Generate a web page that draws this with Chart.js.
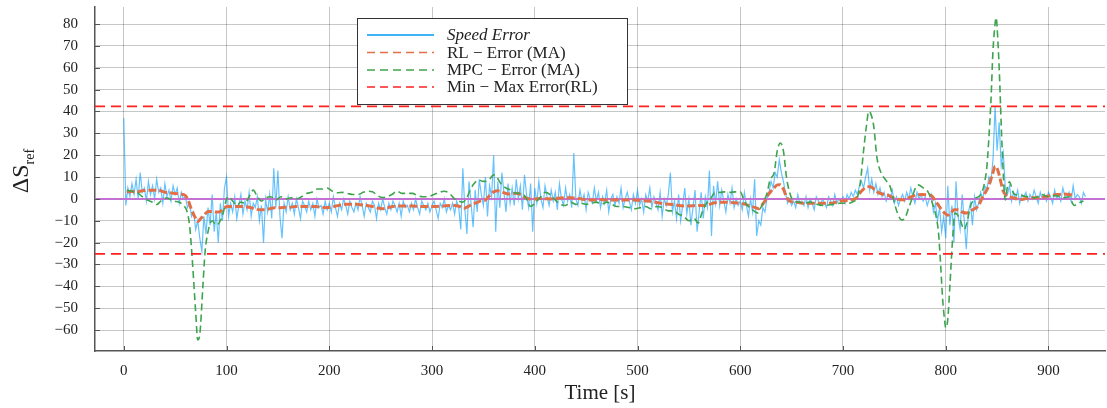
<!DOCTYPE html>
<html>
<head>
<meta charset="utf-8">
<script src="https://cdn.jsdelivr.net/npm/chart.js@4.4.1/dist/chart.umd.min.js"></script>
<style>
body { margin: 0; background: #ffffff; }
#wrap { width: 1107px; height: 408px; }
</style>
</head>
<body>
<div id="wrap"><canvas id="speed_error_chart" width="1107" height="408"></canvas></div>
<script>
// raw speed error, one sample every 2 s starting at t = 0
const speed_error_step = 2;
const speed_error_values = [
    37, -3, 5, 1, 7, 2, 9, 0, 12, 3,
    5, -1, 8, 2, 6, 0, 9, 3, 5, -2,
    7, 1, 4, -1, 6, 2, 5, -2, 3, 0,
    1, -4, -2, -8, -6, -14, -10, -18, -24, -8,
    -16, -4, -12, 2, -15, -6, -20, -2, -10, 5,
    10, -8, -2, -6, 1, -9, -3, 2, -7, -1,
    -5, 3, -8, -2, -4, 1, -10, -3, -20, 0,
    -6, 2, -9, 14, -4, 13, -8, -18, -2, -6,
    1, -5, -2, -7, 0, -4, -9, -1, -3, -6,
    -1, -5, -2, -8, 0, -4, -3, -7, -1, -5,
    -2, -6, 1, -4, -8, -2, -5, 0, -3, -7,
    -1, -4, -6, -2, -5, 1, -3, -8, -2, -4,
    -6, -1, -3, -9, -2, -5, 0, -4, -7, -2,
    -5, -1, -3, -6, -2, -8, -1, -4, -3, -6,
    -2, -5, 0, -4, -7, -1, -3, -5, -2, -6,
    -3, -1, -5, -9, -2, -4, 0, -6, -3, -5,
    -2, -7, -1, -4, -14, 14, -5, -16, 8, -2,
    -13, 4, -6, 9, 2, -3, 10, -8, 6, 1,
    20, -15, 8, -4, 12, 3, -6, 7, -2, 5,
    -3, 9, 0, 6, -5, 11, 2, -4, 7, -15,
    5, -2, 8, 0, -4, 6, 1, -3, 4, -1,
    3, -5, 7, 0, -3, 5, -1, 2, -4, 21,
    0, -3, 4, -1, 2, -5, 3, 0, -2, 5,
    -1, 3, -4, 1, -2, 4, -6, 0, 2, -3,
    1, -2, 5, -4, 0, 3, -1, -5, 2, -2,
    4, -3, 0, -6, 2, -1, 5, -4, 1, -2,
    -5, 3, -8, 0, -3, 2, 12, -6, -1, -9,
    2, -10, -3, 5, -7, 0, -12, -4, 4, -15,
    -6, 3, -9, 1, -4, 13, -17, 6, -2, 8,
    -3, 4, -1, -6, 2, -2, 5, -4, 0, -3,
    -1, -5, 3, -3, -8, 0, -6, 9, -17, -10,
    -12, -4, -6, 0, 3, 8, 5, 12, 10, 18,
    12, 8, 3, -2, 0, -3, -1, -4, 2, -2,
    -1, -3, 1, -4, 0, -2, -5, 1, -1, -3,
    0, -2, -4, 1, -1, -3, 2, -2, 0, -1,
    1, -2, 2, 0, 3, 1, 4, 2, 6, 8,
    5, 10, 14, 4, 9, 3, 7, 2, 5, 1,
    3, -1, 2, 0, 4, -2, 1, -3, 0, 2,
    -1, 3, 0, 5, 1, -2, 3, 0, 2, -1,
    1, -3, 0, 2, -6, -2, -10, -4, -15, -8,
    -18, 6, -12, -3, -20, 8, -8, -14, 2, -10,
    -23, -6, -2, -12, 1, -5, -2, 3, 0, 6,
    4, 10, 8, 18, 42, 22, 35, 15, 21, 5,
    2, 6, -1, 3, 0, 4, -2, 2, 1, 3,
    -1, 2, 0, 4, 1, -2, 3, 0, 2, -1,
    3, 1, -2, 4, 0, 2, -1, 5, 1, 0,
    3, -1, 6, 0, 2, 1, -2, 3, 1
];

// moving averages as [time, value]
const rl_error_ma = [
    [3, 3], [7, 3.5], [12, 3], [16, 3.5], [20, 3.8], [25, 4], [30, 4], [35, 3.8], [40, 3], [45, 2.8],
    [50, 2.5], [55, 2.2], [60, 1.5], [63, -1], [66, -5], [69, -8], [72, -10.4], [75, -9], [78, -7.5], [82, -5.8],
    [86, -5.8], [90, -6], [94, -5.8], [98, -4], [102, -3.5], [107, -3.5], [112, -3.5], [117, -3.5], [122, -3.8], [127, -4.5],
    [132, -5], [137, -5], [142, -4.5], [147, -4], [152, -4], [157, -3.8], [162, -3.8], [167, -3.5], [172, -3.5], [177, -3.5],
    [182, -3.5], [187, -3.5], [192, -3.8], [197, -4], [202, -3.8], [207, -3.2], [212, -2.8], [217, -2.5], [222, -2.5], [227, -2.5],
    [232, -2.8], [237, -3], [242, -3.5], [247, -4.2], [252, -4.5], [257, -4], [262, -3.5], [267, -3.2], [272, -3.2], [277, -3.2],
    [282, -3.3], [287, -3.4], [292, -3.5], [297, -3.5], [302, -3.5], [307, -3.4], [312, -3.2], [317, -3], [322, -3], [327, -3.5],
    [331, -4.3], [335, -3.5], [339, -2.5], [343, -1.8], [347, -1], [352, -0.5], [356, 1.5], [360, 3.2], [364, 3.7], [368, 3.2],
    [372, 2.5], [377, 2.2], [382, 2.6], [386, 2], [390, 0.8], [395, 0], [400, 0], [405, 0.2], [410, 0.1], [415, 0],
    [420, 0.2], [425, 0.4], [430, 0.5], [435, 0.5], [440, 0.4], [445, 0], [450, -0.4], [455, -0.5], [460, -0.5], [465, -0.3],
    [470, -0.5], [475, -0.5], [480, -0.5], [485, -0.6], [490, -0.5], [495, -0.5], [500, -0.6], [505, -0.8], [510, -1], [515, -1.3],
    [520, -1.8], [525, -2.2], [530, -2.4], [535, -2.6], [540, -3], [545, -3.2], [550, -3.2], [555, -3.1], [560, -3], [565, -3],
    [570, -2.5], [575, -1.8], [580, -1.5], [585, -1.5], [590, -1.6], [595, -1.8], [600, -2], [605, -2.5], [610, -3.3], [615, -4],
    [618, -4.5], [621, -3], [624, -1], [627, 1.8], [630, 3.5], [633, 5], [636, 6.4], [639, 6.5], [642, 4.5], [645, 1],
    [648, -1], [653, -1.5], [658, -1.8], [663, -2], [668, -2], [673, -2], [678, -2], [683, -2], [688, -2], [693, -1.5],
    [698, -1], [703, -0.8], [708, -0.5], [713, 0.5], [717, 3], [720, 4.5], [724, 5.5], [727, 5.5], [730, 4.5], [734, 3],
    [740, 2], [745, 1.5], [750, 0.3], [755, -0.3], [760, -0.5], [764, 0.5], [768, 1.3], [772, 1.8], [777, 2], [782, 1.8],
    [786, 1.5], [790, -1], [793, -3], [796, -5], [799, -6.5], [802, -7.5], [805, -6.5], [808, -5], [812, -5], [816, -6],
    [820, -6.5], [824, -5.5], [828, -4.5], [832, -3], [835, 0], [838, 2.5], [841, 5], [844, 9], [846, 12], [848, 15],
    [850, 14], [852, 11], [854, 7], [856, 3.5], [859, 1.5], [863, 0.8], [868, 0.2], [873, -0.3], [878, 0.2], [884, 0.5],
    [890, 0.5], [896, 1], [902, 1.5], [908, 2], [914, 2.2], [920, 2], [925, 1.5]
];

const mpc_error_ma = [
    [3, 4], [8, 3.5], [13, 3], [18, 1], [23, -0.5], [28, -1.5], [32, -2.6], [36, -1], [42, 0.5], [48, -1],
    [54, -1.5], [58, -3], [61, -5], [64, -12], [67, -30], [70, -52], [72, -64.5], [74, -62], [77, -40], [79, -25],
    [82, -15], [86, -10], [90, -12], [94, -10], [97, -6], [100, 0], [102, 1], [106, -1], [110, -3], [114, -1.5],
    [118, -2], [122, 1], [126, 4], [130, 1], [134, -1], [138, 0.5], [143, 1], [148, -0.5], [153, 1], [158, 0],
    [163, 0.5], [168, 0], [173, 1], [178, 2.5], [183, 3], [188, 4.5], [193, 4.5], [198, 5], [203, 3.5], [208, 2.8],
    [213, 3], [218, 2.5], [223, 2], [228, 2], [233, 3], [238, 3.5], [242, 3.3], [247, 1.5], [252, 0.6], [256, 1],
    [261, 2], [266, 3.5], [271, 2.5], [276, 2.5], [281, 2.5], [286, 1.5], [291, 1], [296, 1], [302, 2], [307, 3],
    [312, 3.5], [317, 2.5], [322, 0], [326, -1], [330, -1.5], [334, 0.5], [337, 4], [341, 7], [345, 8.7], [350, 8],
    [355, 8.5], [360, 11], [363, 10], [367, 7], [372, 5], [377, 4], [382, 2.5], [387, 2.7], [392, 0], [396, -3.5],
    [400, -2], [405, 0.5], [410, 3], [415, 2], [420, -0.5], [425, -2.5], [430, -3], [435, -1.5], [440, -2.5], [445, -2],
    [450, -2.5], [455, -2], [460, -1.5], [465, -2.5], [470, -1.5], [475, -2.5], [480, -3.5], [486, -3.5], [492, -4], [498, -4.5],
    [503, -4], [508, -3.5], [513, -4.5], [519, -3.5], [524, -4], [530, -5.5], [535, -5.5], [540, -7], [545, -8], [550, -10],
    [555, -9], [559, -11], [563, -6], [567, -2], [571, 0], [575, 2.7], [580, 3], [585, 3.2], [590, 3], [595, 3.2],
    [600, 3.2], [604, -1], [608, -3.5], [612, -5], [617, -6.4], [620, -4], [623, -1], [626, 2.5], [629, 8.7], [633, 12],
    [636, 22], [639, 25.6], [642, 22], [645, 10], [648, 3], [652, -1], [657, -1.5], [662, -2], [668, -1.5], [675, -2.5],
    [682, -3], [690, -2.5], [697, -2], [705, -2], [711, -1], [714, 0.5], [717, 8], [720, 22], [723, 34], [725, 40],
    [727, 39], [730, 33], [733, 19], [737, 12], [741, 9], [746, 5.5], [749, 0], [753, -6.5], [757, -9.6], [760, -9],
    [764, -4], [767, 0], [770, 4.5], [773, 6.4], [778, 5], [783, 3], [788, -3.5], [791, -9], [793, -15.7], [795, -30],
    [797, -46], [799, -56], [800, -59], [802, -55], [804, -40], [807, -16], [809, -6.5], [811, -7], [814, -9.6], [818, -14],
    [821, -10], [824, -3.5], [828, 0], [832, 1], [835, 2.7], [838, 8], [840, 14.6], [842, 28], [844, 45], [846, 68],
    [848, 80], [849, 83], [851, 70], [852, 60], [855, 22], [858, -0.5], [860, 5.5], [862, 7.8], [866, 2.5], [873, 1.5],
    [880, 1], [887, 0.5], [893, 2], [900, 1], [907, 1.5], [914, 0.5], [920, 1], [925, -3], [929, -2], [934, -1]
];

const min_max_error_rl = [42.3, -25.2];
const zero_level = 0;
const x_range = [-28, 955];
const y_range = [-69.6, 87.8];
const legend_labels = ["Speed Error", "RL \u2212 Error (MA)", "MPC \u2212 Error (MA)", "Min \u2212 Max Error(RL)"];

const speed_error_points = speed_error_values.map((v, i) => ({ x: i * speed_error_step, y: v }));
const rl_points = rl_error_ma.map(p => ({ x: p[0], y: p[1] }));
const mpc_points = mpc_error_ma.map(p => ({ x: p[0], y: p[1] }));
const hline = level => [{ x: x_range[0], y: level }, { x: x_range[1], y: level }];

const serif = "'Liberation Serif', 'DejaVu Serif', serif";
const c_blue = "rgba(0, 154, 250, 0.6)";
const c_orange = "#E36F47";
const c_green = "#3EA44E";
const c_purple = "#C371D2";
const c_red = "#FF2020";

// y label with subscript, x label, inner tick marks and the boxed legend
const extras_plugin =
{
    id: "extras",
    afterDatasetsDraw(chart)
    {
        const ctx = chart.ctx;
        const area = chart.chartArea;
        ctx.save();
        ctx.strokeStyle = "#555555";
        ctx.lineWidth = 1;
        chart.scales.y.ticks.forEach(t =>
        {
            const py = Math.round(chart.scales.y.getPixelForValue(t.value)) + 0.5;
            ctx.beginPath(); ctx.moveTo(area.left, py); ctx.lineTo(area.left + 5, py); ctx.stroke();
        });
        chart.scales.x.ticks.forEach(t =>
        {
            const px = Math.round(chart.scales.x.getPixelForValue(t.value)) + 0.5;
            ctx.beginPath(); ctx.moveTo(px, area.bottom); ctx.lineTo(px, area.bottom - 5); ctx.stroke();
        });
        ctx.restore();
    },
    afterDraw(chart)
    {
        const ctx = chart.ctx;
        ctx.save();

        // y axis title: ΔS_ref
        ctx.translate(22, 171);
        ctx.rotate(-Math.PI / 2);
        ctx.fillStyle = "#222222";
        ctx.textBaseline = "middle";
        ctx.font = "24px " + serif;
        const w1 = ctx.measureText("\u0394S").width;
        ctx.font = "14px " + serif;
        const w2 = ctx.measureText("ref").width;
        const x0 = -(w1 + w2) / 2;
        ctx.font = "24px " + serif;
        ctx.textAlign = "left";
        ctx.fillText("\u0394S", x0, 0);
        ctx.font = "14px " + serif;
        ctx.fillText("ref", x0 + w1, 8);
        ctx.restore();

        // x axis title
        ctx.save();
        ctx.fillStyle = "#222222";
        ctx.font = "21px " + serif;
        ctx.textAlign = "center";
        ctx.textBaseline = "middle";
        ctx.fillText("Time [s]", 600, 393);
        ctx.restore();

        // legend box
        ctx.save();
        const bx = 357, by = 18, bw = 270, bh = 86;
        ctx.fillStyle = "#ffffff";
        ctx.fillRect(bx, by, bw, bh);
        ctx.strokeStyle = "#333333";
        ctx.lineWidth = 1;
        ctx.strokeRect(bx + 0.5, by + 0.5, bw, bh);
        const rows = [35, 52.5, 70, 87];
        const styles =
        [
            { color: "rgb(0, 154, 250)", dash: [] },
            { color: c_orange, dash: [8, 5] },
            { color: c_green, dash: [8, 5] },
            { color: c_red, dash: [8, 5] }
        ];
        legend_labels.forEach((label, i) =>
        {
            ctx.strokeStyle = styles[i].color;
            ctx.setLineDash(styles[i].dash);
            ctx.lineWidth = 1.5;
            ctx.beginPath();
            ctx.moveTo(367, rows[i]);
            ctx.lineTo(434, rows[i]);
            ctx.stroke();
            ctx.fillStyle = "#222222";
            ctx.font = (i === 0 ? "italic " : "") + "17px " + serif;
            ctx.textAlign = "left";
            ctx.textBaseline = "middle";
            ctx.fillText(label, 447, rows[i] + 1);
        });
        ctx.restore();
    }
};

const speed_error_chart = new Chart("speed_error_chart",
{
    type: "line",
    data:
    {
        datasets:
        [
            {
                label: "Min - Max Error(RL) upper",
                data: hline(min_max_error_rl[0]),
                borderColor: c_red,
                borderWidth: 1.8,
                borderDash: [10, 6],
                pointRadius: 0,
                order: 0
            },
            {
                label: "Min - Max Error(RL) lower",
                data: hline(min_max_error_rl[1]),
                borderColor: c_red,
                borderWidth: 1.8,
                borderDash: [10, 6],
                pointRadius: 0,
                order: 0
            },
            {
                label: "MPC - Error (MA)",
                data: mpc_points,
                borderColor: c_green,
                borderWidth: 1.6,
                borderDash: [7, 4],
                pointRadius: 0,
                cubicInterpolationMode: "monotone",
                order: 1
            },
            {
                label: "RL - Error (MA)",
                data: rl_points,
                borderColor: c_orange,
                borderWidth: 3,
                borderDash: [8, 3],
                pointRadius: 0,
                cubicInterpolationMode: "monotone",
                order: 2
            },
            {
                label: "zero",
                data: hline(zero_level),
                borderColor: c_purple,
                borderWidth: 2,
                pointRadius: 0,
                order: 3
            },
            {
                label: "Speed Error",
                data: speed_error_points,
                borderColor: c_blue,
                borderWidth: 1.2,
                pointRadius: 0,
                order: 4
            }
        ]
    },
    options:
    {
        responsive: false,
        animation: false,
        layout:
        {
            padding: { top: 7, right: 2, left: 0, bottom: 0 }
        },
        plugins:
        {
            legend: { display: false },
            tooltip: { enabled: false }
        },
        scales:
        {
            x:
            {
                type: "linear",
                min: x_range[0],
                max: x_range[1],
                afterFit: scale => { scale.height = 57; scale.paddingLeft = 0; scale.paddingRight = 0; },
                grid: { color: "rgba(0, 0, 0, 0.22)", drawTicks: false },
                border: { display: true, color: "#555555", width: 1.5 },
                ticks:
                {
                    stepSize: 100,
                    includeBounds: false,
                    padding: 11,
                    color: "#222222",
                    font: { family: serif, size: 15 },
                    maxRotation: 0
                }
            },
            y:
            {
                type: "linear",
                min: y_range[0],
                max: y_range[1],
                afterFit: scale => { scale.width = 95; scale.paddingTop = 0; scale.paddingBottom = 0; },
                grid: { color: "rgba(0, 0, 0, 0.22)", drawTicks: false },
                border: { display: true, color: "#555555", width: 1.5 },
                ticks:
                {
                    stepSize: 10,
                    includeBounds: false,
                    padding: 17,
                    color: "#222222",
                    font: { family: serif, size: 15 },
                    callback: v => (v < 0 ? "\u2212" + Math.abs(v) : String(v))
                }
            }
        }
    },
    plugins: [extras_plugin]
});
</script>
</body>
</html>
